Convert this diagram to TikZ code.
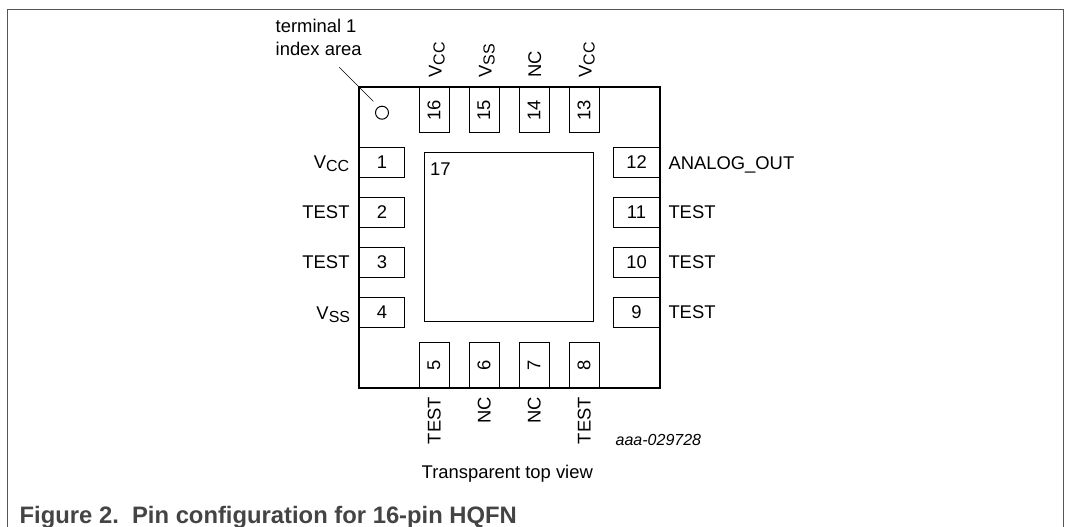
\documentclass[tikz,border=0pt]{standalone}
\usepackage{fontspec}
\setmainfont{Liberation Sans}
\definecolor{framegray}{HTML}{555555}
\definecolor{capgray}{HTML}{444444}
\newcommand{\volt}[1]{V\raisebox{-3pt}{\fontsize{16}{18}\selectfont #1}}
\begin{document}
\begin{tikzpicture}[x=1pt,y=-1pt,
	    padh/.style={draw,line width=1pt,rectangle,minimum width=45.5pt,minimum height=30pt,inner sep=0pt},
	    padv/.style={padh,rotate=90},
	    lbl/.style={inner sep=0pt},
	    lblv/.style={inner sep=0pt,rotate=90},
	    every node/.style={font=\fontsize{18.4}{21}\selectfont}]
	    \useasboundingbox (0,0) rectangle (1066,527);
	    \draw [framegray,line width=1pt] (7.5,527) -- (7.5,9.5) -- (1063.5,9.5) -- (1063.5,527);
	    % left side pads
	    \foreach \num/\ypos in {1/162.5,2/212.5,3/262.5,4/312.5}
	        \node [padh] (pad\num) at (382,\ypos) {\num};
	    % right side pads
	    \foreach \num/\ypos in {12/162.5,11/212.5,10/262.5,9/312.5}
	        \node [padh] (pad\num) at (636.5,\ypos) {\num};
	    % top side pads
	    \foreach \num/\xpos in {16/434,15/484,14/534,13/584}
	        \node [padv] (pad\num) at (\xpos,110) {\num};
	    % bottom side pads
	    \foreach \num/\xpos in {5/434,6/484,7/534,8/584}
	        \node [padv] (pad\num) at (\xpos,365) {\num};
	    \draw [line width=2.2pt] (359,87) rectangle (659.7,387.7);
	    \node [draw,line width=1pt,minimum width=169.5pt,minimum height=169.7pt,inner sep=0pt] (pad17) at (509,236.9) {};
	    \node [lbl] (num17) at (440.3,169.3) {17};
	    \node [draw,circle,line width=1pt,minimum size=13pt,inner sep=0pt] (index) at (382,112.7) {};
	    \coordinate (leader) at (339.3,67.3);
	    \coordinate (leaderend) at (373.3,101.3);
	    \draw [line width=.7pt] (leader) -- (leaderend);
	    \node [lbl,anchor=base west] (term1) at (275.5,32.7) {terminal 1};
	    \node [lbl,anchor=base west] (term2) at (275.5,55.7) {index area};
	    % pin names
	    \node [lbl,anchor=base east] (name1) at (349.5,168.7) {\volt{CC}};
	    \node [lbl,anchor=base east] (name2) at (349.7,218.3) {TEST};
	    \node [lbl,anchor=base east] (name3) at (349.7,268.3) {TEST};
	    \node [lbl,anchor=base east] (name4) at (350.3,319.3) {\volt{SS}};
	    \node [lbl,anchor=base west] (name12) at (668.3,169) {ANALOG\_OUT};
	    \node [lbl,anchor=base west] (name11) at (668.3,218.3) {TEST};
	    \node [lbl,anchor=base west] (name10) at (668.3,268.3) {TEST};
	    \node [lbl,anchor=base west] (name9) at (668.3,318.3) {TEST};
	    \node [lblv,anchor=base west] (name16) at (441.7,77.7) {\volt{CC}};
	    \node [lblv,anchor=base west] (name15) at (491.5,77.7) {\volt{SS}};
	    \node [lblv,anchor=base west] (name14) at (541,77.5) {NC};
	    \node [lblv,anchor=base west] (name13) at (591.5,77.7) {\volt{CC}};
	    \node [lblv,anchor=base east] (name5) at (440.7,397) {TEST};
	    \node [lblv,anchor=base east] (name6) at (490.7,397) {NC};
	    \node [lblv,anchor=base east] (name7) at (540.7,397) {NC};
	    \node [lblv,anchor=base east] (name8) at (590.7,397) {TEST};
	    \node [lbl,anchor=base west,font=\fontsize{16}{18}\selectfont\itshape] (partno) at (615.5,445) {aaa-029728};
	    \node [lbl,anchor=base west] (viewname) at (421.5,478.7) {Transparent top view};
	    \node [lbl,anchor=base west,text=capgray,font=\fontsize{23.8}{26}\bfseries] (caption) at (19.5,523.3) {Figure 2.\ \ Pin configuration for 16-pin HQFN};
\end{tikzpicture}
\end{document}
